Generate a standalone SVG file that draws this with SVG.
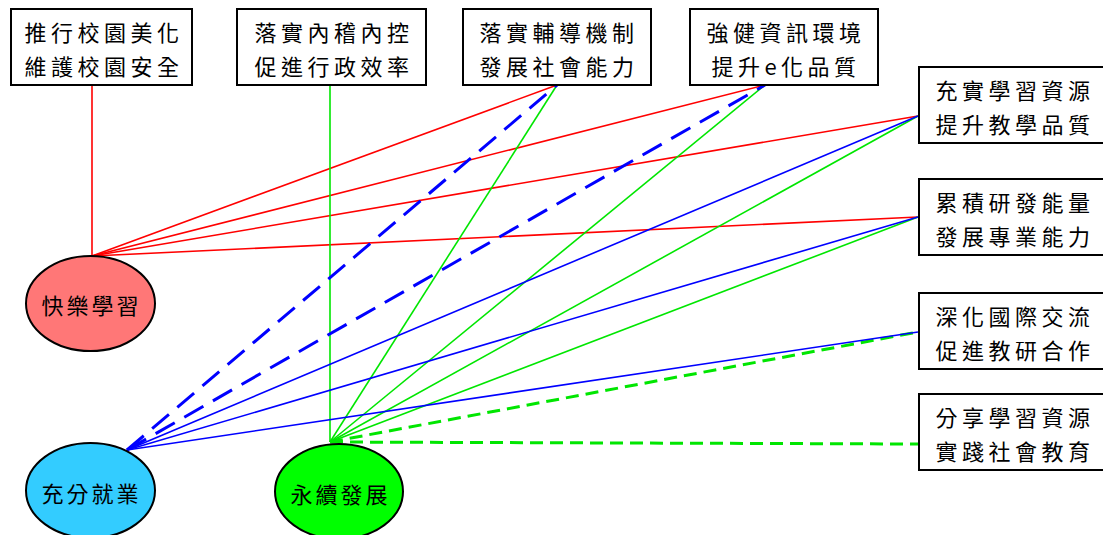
<svg xmlns="http://www.w3.org/2000/svg" width="1103" height="535" viewBox="0 0 1103 535">
<style>
.box{fill:#fff;stroke:#000;stroke-width:2}
.t{font-family:"Noto Sans CJK TC","Noto Sans CJK SC",sans-serif;font-size:22px;letter-spacing:4.5px;text-anchor:middle;fill:#000}
.et{font-family:"Noto Sans CJK TC","Noto Sans CJK SC",sans-serif;font-size:22px;letter-spacing:3px;text-anchor:middle;dominant-baseline:central;fill:#000}
.ell{stroke:#000;stroke-width:2}
.r{stroke:#f00;stroke-width:1.6;fill:none}
.g{stroke:#00e600;stroke-width:1.6;fill:none}
.b{stroke:#0000ff;stroke-width:1.6;fill:none}
.bd{stroke:#0000ff;stroke-width:3;stroke-dasharray:22 11;fill:none}
.gd{stroke:#00e600;stroke-width:3;stroke-dasharray:13 7;fill:none}
</style>
<rect width="1103" height="535" fill="#fff"/>
<g id="connectors">
<line class="r" x1="92" y1="85" x2="92" y2="256"/>
<line class="r" x1="92" y1="256" x2="557" y2="85"/>
<line class="r" x1="92" y1="256" x2="765" y2="85"/>
<line class="r" x1="92" y1="256" x2="918" y2="116"/>
<line class="r" x1="92" y1="256" x2="918" y2="217"/>
<line class="g" x1="330" y1="85" x2="330" y2="442"/>
<line class="g" x1="330" y1="442" x2="557" y2="85"/>
<line class="g" x1="330" y1="442" x2="765" y2="85"/>
<line class="g" x1="330" y1="442" x2="918" y2="116"/>
<line class="g" x1="330" y1="442" x2="918" y2="217"/>
<line class="gd" x1="330" y1="442" x2="918" y2="332"/>
<line class="gd" x1="330" y1="442" x2="918" y2="444"/>
<line class="bd" x1="127" y1="450" x2="557" y2="85"/>
<line class="bd" x1="127" y1="450" x2="765" y2="85"/>
<line class="b" x1="127" y1="450" x2="918" y2="116"/>
<line class="b" x1="127" y1="450" x2="918" y2="217"/>
<line class="b" x1="127" y1="450" x2="918" y2="332"/>
</g>
<g id="box1"><rect class="box" x="11" y="9" width="181" height="76"/>
<text class="t" x="104" y="41">推行校園美化</text><text class="t" x="104" y="75">維護校園安全</text></g>
<g id="box2"><rect class="box" x="237" y="9" width="189" height="76"/>
<text class="t" x="334" y="41">落實內稽內控</text><text class="t" x="334" y="75">促進行政效率</text></g>
<g id="box3"><rect class="box" x="463" y="9" width="188" height="76"/>
<text class="t" x="559" y="41">落實輔導機制</text><text class="t" x="559" y="75">發展社會能力</text></g>
<g id="box4"><rect class="box" x="690" y="9" width="188" height="76"/>
<text class="t" x="786" y="41">強健資訊環境</text><text class="t" x="786" y="75">提升e化品質</text></g>
<g id="box5"><rect class="box" x="919" y="67" width="190" height="76"/>
<text class="t" x="1015" y="99">充實學習資源</text><text class="t" x="1015" y="133">提升教學品質</text></g>
<g id="box6"><rect class="box" x="919" y="179" width="190" height="76"/>
<text class="t" x="1015" y="211">累積研發能量</text><text class="t" x="1015" y="245">發展專業能力</text></g>
<g id="box7"><rect class="box" x="919" y="293" width="190" height="76"/>
<text class="t" x="1015" y="325">深化國際交流</text><text class="t" x="1015" y="359">促進教研合作</text></g>
<g id="box8"><rect class="box" x="919" y="394" width="190" height="76"/>
<text class="t" x="1015" y="426">分享學習資源</text><text class="t" x="1015" y="460">實踐社會教育</text></g>
<g id="happy"><ellipse class="ell" cx="90.5" cy="303.5" rx="64.5" ry="47.5" fill="#ff7777"/>
<text class="et" x="91.5" y="304">快樂學習</text></g>
<g id="employ"><ellipse class="ell" cx="90.5" cy="490.5" rx="64.5" ry="47.5" fill="#33ccff"/>
<text class="et" x="91.5" y="492">充分就業</text></g>
<g id="sustain"><ellipse class="ell" cx="339" cy="491.5" rx="64" ry="47.5" fill="#00ff00"/>
<text class="et" x="340.5" y="493">永續發展</text></g>
</svg>
